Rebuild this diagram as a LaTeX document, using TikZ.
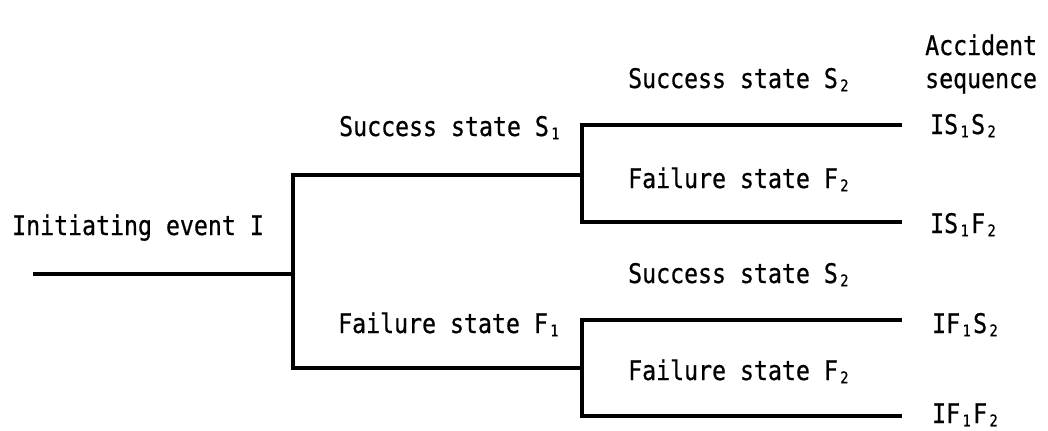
\documentclass[tikz,border=0pt]{standalone}
\usepackage{fontspec}
\setmonofont{DejaVu Sans Mono}[FakeStretch=0.86,FakeBold=0.6]
% lowered small index digit, one character cell wide
\newcommand{\lowidx}[1]{\makebox[13bp]{\raisebox{-0.12em}{\fontsize{16bp}{16bp}\selectfont #1}}}
\begin{document}
\begin{tikzpicture}[x=1bp,y=-1bp,
  lbl/.style={anchor=base west,inner sep=0pt,font=\ttfamily\fontsize{27bp}{30bp}\selectfont},
  branch/.style={line width=3.6bp,line cap=rect,line join=miter}]
\useasboundingbox (0,0) rectangle (1048,430);

% junction points of the tree
\coordinate (start) at (35,274);
\coordinate (j1) at (293,274);
\coordinate (j1t) at (293,175);
\coordinate (j1b) at (293,368);
\coordinate (j2t) at (582,175);
\coordinate (j2b) at (582,368);
\coordinate (k1t) at (582,125);
\coordinate (k1b) at (582,222);
\coordinate (k2t) at (582,320);
\coordinate (k2b) at (582,416);
\coordinate (e1) at (900,125);
\coordinate (e2) at (900,222);
\coordinate (e3) at (900,320);
\coordinate (e4) at (900,416);

% the event tree
\draw[branch] (start) -- (j1);
\draw[branch] (j2t) -- (j1t) -- (j1b) -- (j2b);
\draw[branch] (e1) -- (k1t) -- (k1b) -- (e2);
\draw[branch] (e3) -- (k2t) -- (k2b) -- (e4);

% labels
\node[lbl] (ie) at (12,235) {Initiating event I};
\node[lbl] (s1) at (339,136) {Success state S\lowidx{1}};
\node[lbl] (f1) at (338,333) {Failure state F\lowidx{1}};
\node[lbl] (s2a) at (628,88) {Success state S\lowidx{2}};
\node[lbl] (f2a) at (628,188) {Failure state F\lowidx{2}};
\node[lbl] (s2b) at (628,283) {Success state S\lowidx{2}};
\node[lbl] (f2b) at (628,380) {Failure state F\lowidx{2}};
\node[lbl] (acc) at (925,55) {Accident};
\node[lbl] (seq) at (925,88) {sequence};
\node[lbl] (q1) at (930,134) {IS\lowidx{1}S\lowidx{2}};
\node[lbl] (q2) at (930,233) {IS\lowidx{1}F\lowidx{2}};
\node[lbl] (q3) at (932,333) {IF\lowidx{1}S\lowidx{2}};
\node[lbl] (q4) at (932,423) {IF\lowidx{1}F\lowidx{2}};
\end{tikzpicture}
\end{document}
